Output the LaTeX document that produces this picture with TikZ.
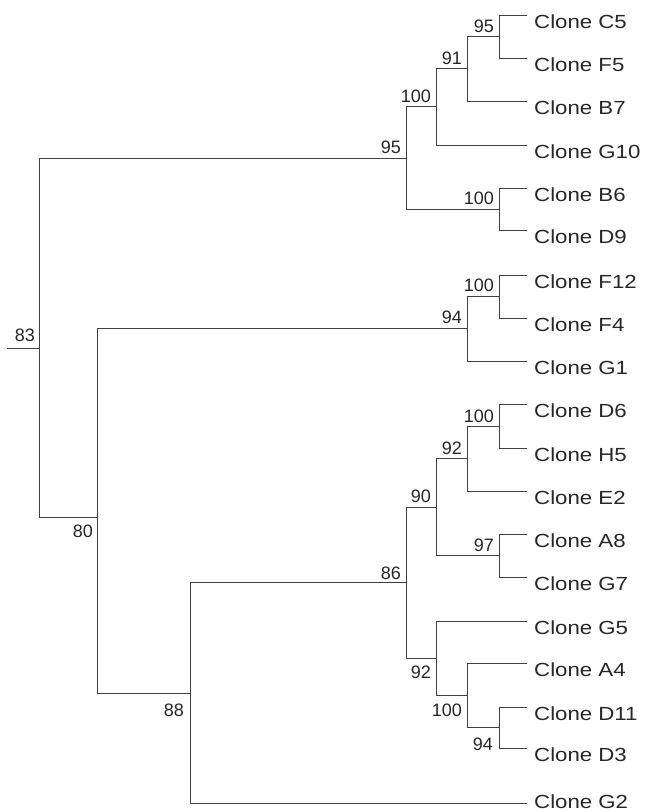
\documentclass[tikz,border=0pt]{standalone}
\usepackage{fontspec}
\setmainfont{Liberation Sans}
\newfontfamily\leaffont[FakeStretch=1.17]{Liberation Sans}
\begin{document}
\begin{tikzpicture}[x=1pt,y=-1pt,
  branch/.style={draw=black!75,line width=1pt},
  leaflab/.style={anchor=north west,inner sep=0pt,text=black!85,font=\leaffont\fontsize{19}{19}\selectfont},
  bsup/.style={anchor=south east,inner sep=0pt,text=black!85,font=\fontsize{18}{18}\selectfont},
  bsdown/.style={anchor=north east,inner sep=0pt,text=black!85,font=\fontsize{18}{18}\selectfont}]
\useasboundingbox (0,0) rectangle (649,812);
% leaves
\foreach \n/\y in {C5/15,F5/58,B7/101,G10/145,B6/188,D9/230,F12/275,F4/318,G1/361,D6/404,H5/448,E2/491,A8/534,G7/577,G5/621,A4/663,D11/707,D3/748}{
  \coordinate (e\n) at (527,\y);
  \node[leaflab] (l\n) at (534,\y) {Clone \n};
}
\coordinate (eG2) at (527,803);
\node[leaflab,anchor=south west] (lG2) at (534,809) {Clone G2};
% internal nodes
\coordinate (n1) at (499,36.5);
\coordinate (n2) at (467,68.7);
\coordinate (n3) at (436,106.9);
\coordinate (n4) at (499,209);
\coordinate (n5) at (406,158);
\coordinate (n6) at (499,296.5);
\coordinate (n7) at (467,328.7);
\coordinate (n8) at (499,426);
\coordinate (n9) at (467,458.5);
\coordinate (n10) at (499,555.5);
\coordinate (n11) at (436,507);
\coordinate (n12) at (499,727.5);
\coordinate (n13) at (467,695);
\coordinate (n14) at (436,658);
\coordinate (n15) at (406,582.5);
\coordinate (n16) at (190,693.5);
\coordinate (n17) at (97,517);
\coordinate (root) at (39,348);
\coordinate (stub) at (7,348);
% branches
\draw[branch] (n1) |- (eC5) (n1) |- (eF5);
\draw[branch] (n2) |- (n1) (n2) |- (eB7);
\draw[branch] (n3) |- (n2) (n3) |- (eG10);
\draw[branch] (n4) |- (eB6) (n4) |- (eD9);
\draw[branch] (n5) |- (n3) (n5) |- (n4);
\draw[branch] (n6) |- (eF12) (n6) |- (eF4);
\draw[branch] (n7) |- (n6) (n7) |- (eG1);
\draw[branch] (n8) |- (eD6) (n8) |- (eH5);
\draw[branch] (n9) |- (n8) (n9) |- (eE2);
\draw[branch] (n10) |- (eA8) (n10) |- (eG7);
\draw[branch] (n11) |- (n9) (n11) |- (n10);
\draw[branch] (n12) |- (eD11) (n12) |- (eD3);
\draw[branch] (n13) |- (eA4) (n13) |- (n12);
\draw[branch] (n14) |- (eG5) (n14) |- (n13);
\draw[branch] (n15) |- (n11) (n15) |- (n14);
\draw[branch] (n16) |- (n15) (n16) |- (eG2);
\draw[branch] (n17) |- (n7) (n17) |- (n16);
\draw[branch] (root) |- (n5) (root) |- (n17);
\draw[branch] (stub) -- (root);
% bootstrap values
\node[bsup] (b1) at ([shift={(-5,-4)}]n1) {95};
\node[bsup] (b2) at ([shift={(-5,-4)}]n2) {91};
\node[bsup] (b3) at ([shift={(-5,-4)}]n3) {100};
\node[bsup] (b4) at ([shift={(-5,-4)}]n4) {100};
\node[bsup] (b5) at ([shift={(-5,-4)}]n5) {95};
\node[bsup] (b6) at ([shift={(-5,-5)}]n6) {100};
\node[bsup] (b7) at ([shift={(-5,-5)}]n7) {94};
\node[bsup] (b8) at ([shift={(-5,-3)}]n8) {100};
\node[bsup] (b9) at ([shift={(-5,-4)}]n9) {92};
\node[bsup] (b10) at ([shift={(-5,-4)}]n10) {97};
\node[bsup] (b11) at ([shift={(-5,-4)}]n11) {90};
\node[bsdown] (b12) at ([shift={(-6,10)}]n12) {94};
\node[bsdown] (b13) at ([shift={(-5,9)}]n13) {100};
\node[bsdown] (b14) at ([shift={(-5,8)}]n14) {92};
\node[bsup] (b15) at ([shift={(-5,-3)}]n15) {86};
\node[bsdown] (b16) at ([shift={(-6,10)}]n16) {88};
\node[bsdown] (b17) at ([shift={(-4,8)}]n17) {80};
\node[bsup] (b18) at ([shift={(-4,-6)}]root) {83};
\end{tikzpicture}
\end{document}
